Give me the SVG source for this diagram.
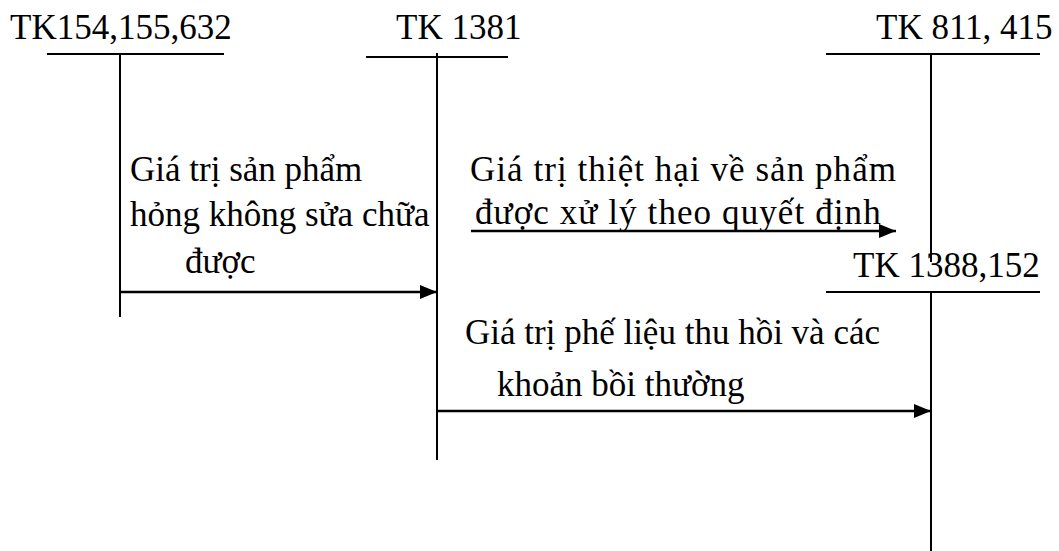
<svg xmlns="http://www.w3.org/2000/svg" width="1059" height="551" viewBox="0 0 1059 551">
  <style>
    .ln { stroke: #000; stroke-width: 2; fill: none; }
    .ar { stroke: #000; stroke-width: 2.5; fill: none; }
  </style>
  <defs>
    <marker id="head" markerUnits="userSpaceOnUse" markerWidth="17" markerHeight="14" refX="17" refY="7" orient="auto">
      <path d="M0,0 L17,7 L0,14 Z" fill="#000"/>
    </marker>
  </defs>
  <rect width="1059" height="551" fill="#fff"/>

  <!-- T-accounts -->
  <g id="tk154">
    <text x="10" y="39" font-size="35" font-family="Liberation Serif">TK154,155,632</text>
    <line class="ln" x1="47" y1="54" x2="224" y2="54"/>
    <line class="ln" x1="120" y1="54" x2="120" y2="317"/>
  </g>
  <g id="tk1381">
    <text x="396" y="39" font-size="35" font-family="Liberation Serif">TK 1381</text>
    <line class="ln" x1="366" y1="57" x2="508" y2="57"/>
    <line class="ln" x1="437" y1="53" x2="437" y2="460"/>
  </g>
  <g id="tk811">
    <text x="876" y="39" font-size="35" font-family="Liberation Serif">TK 811, 415</text>
    <line class="ln" x1="826" y1="54" x2="1040" y2="54"/>
    <line class="ln" x1="931" y1="54" x2="931" y2="262"/>
  </g>
  <g id="tk1388">
    <text x="853" y="277" font-size="35" font-family="Liberation Serif">TK 1388,152</text>
    <line class="ln" x1="826" y1="292" x2="1040" y2="292"/>
    <line class="ln" x1="931" y1="292" x2="931" y2="551"/>
  </g>

  <!-- entries -->
  <g id="connectors">
    <line class="ar" x1="120" y1="292" x2="437" y2="292" marker-end="url(#head)"/>
    <line class="ar" x1="471" y1="231" x2="896" y2="231" marker-end="url(#head)"/>
    <line class="ar" x1="437" y1="411" x2="931" y2="411" marker-end="url(#head)"/>
  </g>

  <g id="labels">
    <text x="130" y="181" font-size="35" font-family="Liberation Serif">Giá trị sản phẩm</text>
    <text x="130" y="226" font-size="35" font-family="Liberation Serif">hỏng không sửa chữa</text>
    <text x="185" y="273" font-size="35" font-family="Liberation Serif">được</text>
    <text x="470" y="181" font-size="35" font-family="Liberation Serif" letter-spacing="1.05">Giá trị thiệt hại về sản phẩm</text>
    <text x="475" y="224" font-size="35" font-family="Liberation Serif" letter-spacing="1.1">được xử lý theo quyết định</text>
    <text x="465" y="344" font-size="35" font-family="Liberation Serif">Giá trị phế liệu thu hồi và các</text>
    <text x="497" y="396" font-size="35" font-family="Liberation Serif">khoản bồi thường</text>
  </g>
</svg>
